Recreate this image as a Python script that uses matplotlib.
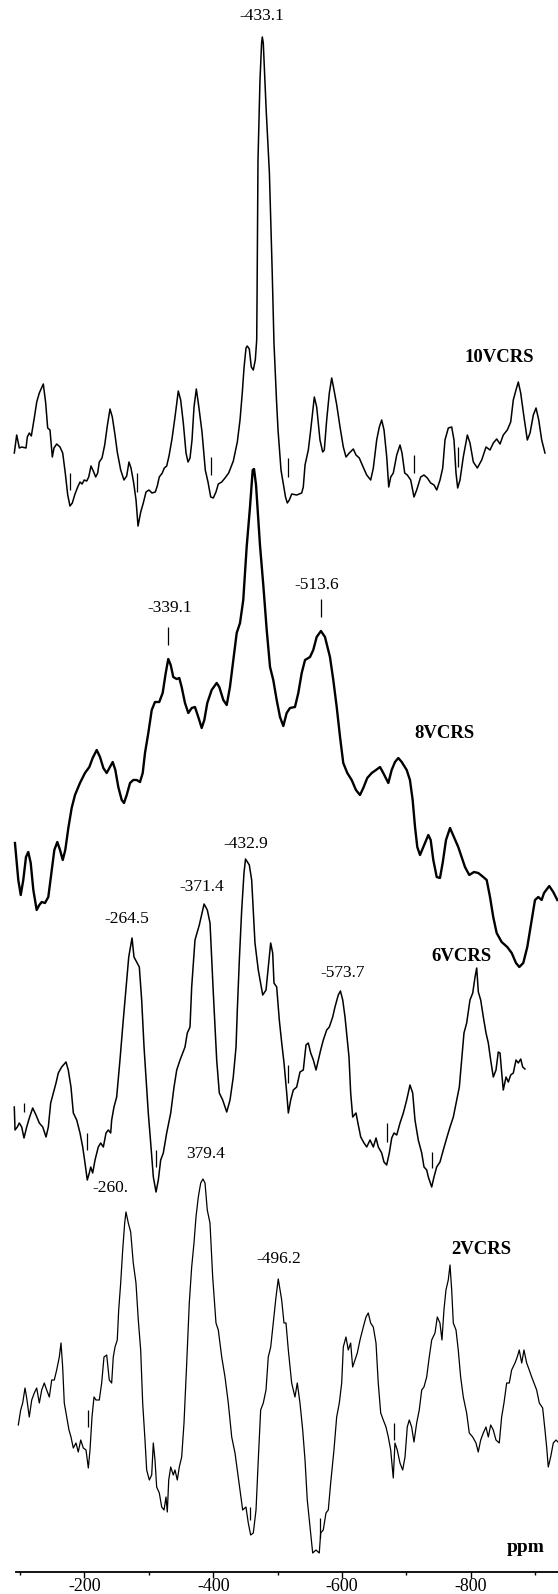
import numpy as np
import matplotlib.pyplot as plt

plt.rcParams['font.family'] = ['Liberation Serif', 'DejaVu Serif']

# ---- 10VCRS ----
ppm_10 = [-48.2, -51.9, -56.0, -59.7, -66.4, -68.4, -71.5, -74.6, -79.2, -83.0,
          -87.0, -93.2, -96.9, -100.0, -103.6, -107.2, -109.8, -114.0, -119.1, -123.3,
          -127.3, -131.1, -134.6, -138.2, -142.4, -146.6, -150.2, -153.3, -156.8, -160.6,
          -163.7, -167.2, -170.8, -174.5, -177.6, -180.1, -184.3, -188.5, -192.5, -196.7,
          -200.3, -204.5, -208.0, -213.3, -218.4, -222.6, -226.2, -229.3, -233.5, -237.1,
          -240.2, -244.4, -248.4, -252.6, -257.2, -261.9, -267.0, -270.1, -273.2, -277.9,
          -281.0, -284.7, -288.3, -292.9, -297.6, -302.7, -306.4, -310.5, -314.7, -317.8,
          -320.9, -324.0, -327.1, -330.7, -334.4, -339.5, -344.6, -348.8, -353.0, -357.0,
          -361.2, -364.8, -370.1, -375.2, -380.9, -388.1, -394.3, -398.5, -402.0, -404.7,
          -407.8, -409.8, -412.9, -416.0, -419.1, -422.2, -424.4, -424.9, -426.4, -429.5,
          -432.0, -433.1, -434.6, -439.1, -444.1, -448.5, -451.2, -455.1, -457.5, -462.1,
          -466.0, -469.1, -471.9, -475.0, -478.7, -486.5, -494.2, -496.7, -499.4, -504.5,
          -508.2, -513.8, -517.5, -522.6, -526.8, -529.3, -533.0, -537.1, -540.8, -544.4,
          -548.6, -553.7, -558.8, -563.0, -568.1, -574.3, -578.5, -583.6, -588.9, -595.1,
          -601.3, -605.4, -610.6, -614.7, -618.4, -622.0, -626.2, -629.3, -632.4, -636.4,
          -641.7, -646.8, -649.9, -654.1, -658.1, -663.4, -668.5, -672.7, -678.9, -684.0,
          -689.2, -694.4, -699.6, -703.8, -708.9, -713.1, -716.6, -721.8, -727.0, -730.6,
          -733.7, -736.3, -739.9, -745.0, -751.3, -755.4, -760.6, -766.8, -773.6, -780.3,
          -786.5, -791.6, -796.9, -802.0, -807.1, -813.3, -818.6, -822.6, -826.8, -830.4,
          -834.1, -839.2, -844.4, -848.6, -853.7, -857.9, -862.1, -866.7, -871.8]
int_10 = [47, 65, 52, 53, 52, 63, 67, 64, 82, 98,
          107, 116, 97, 72, 70, 43, 52, 56, 53, 47,
          27, 5, -6, -3, 6, 13, 18, 16, 20, 19,
          23, 34, 29, 23, 27, 38, 42, 55, 74, 91,
          83, 65, 48, 30, 20, 24, 38, 32, 17, 0,
          -26, -12, -3, 8, 10, 7, 8, 14, 23, 27,
          32, 34, 44, 61, 83, 109, 100, 77, 47, 38,
          42, 60, 93, 111, 94, 68, 30, 18, 3, 2,
          8, 16, 18, 22, 27, 39, 58, 80, 107, 132,
          152, 154, 151, 133, 130, 140, 160, 200, 340, 420,
          457, 463, 457, 390, 327, 227, 157, 100, 70, 30,
          15, 3, -3, 0, 6, 5, 7, 13, 35, 50,
          70, 103, 93, 60, 48, 50, 80, 107, 122, 110,
          95, 73, 53, 43, 47, 51, 45, 42, 34, 25,
          20, 32, 60, 73, 80, 70, 43, 13, 23, 27,
          45, 55, 47, 27, 25, 20, 3, 10, 23, 25,
          22, 17, 15, 10, 20, 32, 60, 72, 73, 60,
          27, 12, 20, 43, 65, 57, 38, 32, 40, 53,
          50, 57, 61, 56, 65, 70, 78, 100, 110, 118,
          107, 83, 60, 67, 85, 92, 80, 60, 47]
peaks_10 = [-433.1]
peak_labels_10 = ['-433.1']
marks_10 = [-134.6, -239.1, -353.0, -472.5, -669.0, -737.3]
marks_10_lo = [10, 8, 25, 23, 27, 33]
marks_10_hi = [27, 27, 43, 42, 45, 53]

# ---- 8VCRS ----
ppm_8 = [-163.9, -167.7, -170.5, -173.4, -176.5, -179.1, -181.9, -184.9, -188.7, -191.7,
         -194.5, -198.2, -202.0, -205.9, -208.9, -212.3, -215.4, -218.5, -221.4, -224.9,
         -228.7, -232.5, -238.2, -243.9, -248.9, -252.7, -257.3, -261.1, -264.9, -268.7,
         -272.5, -275.6, -278.6, -282.0, -285.9, -288.5, -291.6, -295.4, -299.1, -303.0,
         -306.8, -309.9, -312.5, -316.3, -320.2, -323.9, -328.8, -332.7, -336.2, -339.1,
         -341.9, -344.8, -348.7, -351.7, -354.4, -358.2, -362.0, -365.9, -369.6, -373.4,
         -377.3, -380.3, -383.7, -388.7, -394.4, -397.4, -402.0, -405.9, -409.6, -413.4,
         -417.3, -421.1, -424.8, -428.7, -432.5, -435.6, -437.1, -439.4, -442.0, -443.9,
         -447.7, -451.6, -455.4, -459.1, -463.0, -466.8, -470.6, -474.4, -478.2, -483.9,
         -487.7, -491.6, -495.4, -501.1, -504.8, -508.7, -513.6, -518.2, -523.9, -527.7,
         -531.6, -535.4, -539.1, -543.7, -548.7, -553.6, -558.2, -562.0, -566.5, -571.6,
         -576.5, -581.1, -584.8, -590.6, -594.4, -598.2, -602.0, -605.9, -611.6, -615.3,
         -618.4, -621.1, -623.7, -626.8, -630.6, -636.3, -639.0, -642.0, -645.9, -649.6,
         -652.7, -656.5, -661.1, -665.6, -670.5, -674.4, -678.2, -683.1, -688.5, -693.4,
         -699.1, -703.0, -706.8, -710.5, -714.4, -720.1, -726.5, -731.6, -736.5, -740.3,
         -744.8, -749.4, -754.4, -758.2, -762.0, -765.8, -768.5, -774.5, -779.1, -783.7]
int_8 = [127, 90, 75, 90, 113, 118, 107, 80, 60, 65,
         68, 67, 73, 100, 120, 128, 120, 110, 120, 142,
         162, 175, 187, 197, 203, 212, 220, 213, 202, 197,
         203, 208, 200, 183, 170, 167, 175, 187, 190, 190,
         188, 197, 217, 237, 260, 268, 268, 277, 297, 311,
         305, 293, 291, 292, 283, 267, 257, 262, 263, 253,
         242, 250, 267, 280, 287, 283, 270, 265, 283, 310,
         337, 347, 370, 423, 463, 500, 501, 485, 450, 425,
         385, 340, 303, 290, 270, 253, 244, 257, 262, 263,
         277, 297, 310, 313, 320, 333, 339, 333, 313, 290,
         263, 233, 207, 197, 190, 180, 175, 182, 192, 197,
         200, 203, 197, 187, 200, 208, 212, 208, 200, 190,
         170, 143, 123, 115, 123, 135, 130, 110, 93, 92,
         107, 130, 142, 133, 123, 113, 103, 95, 98, 97,
         93, 90, 73, 53, 37, 28, 23, 17, 7, 3,
         7, 23, 50, 70, 73, 70, 77, 84, 78, 70]
peaks_8 = [-339.1, -513.6]
peak_labels_8 = ['-339.1', '-513.6']

# ---- 6VCRS ----
ppm_6 = [-89.8, -90.9, -94.3, -97.2, -100.8, -104.2, -108.2, -112.1, -117.1, -122.0,
         -126.9, -132.0, -136.9, -140.3, -143.8, -147.7, -151.7, -155.1, -160.1, -166.5,
         -169.9, -173.9, -177.4, -182.4, -187.3, -191.3, -194.7, -198.1, -201.1, -203.2,
         -206.1, -209.6, -214.4, -218.0, -221.9, -225.9, -229.3, -232.8, -234.3, -237.7,
         -241.7, -246.6, -251.5, -256.6, -259.6, -264.5, -267.4, -271.4, -275.3, -278.8,
         -282.3, -285.2, -288.6, -292.2, -296.1, -300.1, -303.5, -307.0, -310.9, -315.9,
         -321.9, -326.8, -330.8, -335.7, -339.7, -343.1, -346.5, -350.5, -353.0, -357.9,
         -364.3, -371.4, -376.2, -380.2, -385.1, -390.1, -394.0, -399.0, -405.0, -409.9,
         -414.7, -418.8, -420.7, -423.7, -427.2, -430.6, -432.9, -438.5, -442.0, -446.9,
         -451.8, -458.4, -463.3, -466.7, -470.2, -473.2, -475.1, -479.1, -483.0, -486.6,
         -490.0, -494.0, -496.4, -499.9, -503.8, -508.8, -513.7, -518.6, -522.6, -526.0,
         -529.6, -533.5, -537.5, -540.9, -544.4, -548.3, -553.3, -557.2, -562.2, -565.6,
         -570.5, -573.7, -577.1, -580.5, -583.9, -586.4, -588.9, -591.9, -596.8, -600.2,
         -603.8, -608.7, -612.7, -617.6, -622.5, -626.5, -629.9, -634.9, -638.3, -642.3,
         -646.2, -649.8, -653.2, -657.2, -662.1, -667.0, -672.0, -676.9, -680.9, -684.3,
         -689.2, -694.3, -697.7, -701.7, -704.1, -709.1, -712.5, -716.5, -721.4, -726.3,
         -731.4, -736.3, -741.2, -746.2, -750.1, -753.6, -757.0, -761.0, -765.9, -770.0,
         -773.4, -775.9, -778.3, -781.8, -785.7, -789.7, -793.1, -796.6, -800.5, -804.5,
         -807.9, -810.5, -813.0, -815.3, -819.4, -822.8, -826.3, -830.2, -834.2, -837.6,
         -841.2, -844.1, -847.5]
int_6 = [83, 60, 63, 67, 63, 52, 63, 72, 82, 75,
         67, 63, 53, 63, 87, 97, 107, 117, 123, 128,
         120, 103, 77, 70, 57, 43, 27, 10, 17, 23,
         17, 30, 43, 47, 43, 57, 60, 57, 70, 83,
         93, 130, 170, 210, 233, 252, 233, 228, 223, 190,
         143, 113, 77, 47, 13, -2, 10, 30, 37, 57,
         77, 103, 120, 130, 137, 143, 157, 163, 203, 250,
         265, 286, 280, 267, 197, 130, 97, 90, 78, 90,
         113, 143, 180, 230, 280, 317, 331, 325, 310, 247,
         220, 195, 200, 223, 247, 237, 207, 203, 170, 147,
         127, 97, 77, 90, 100, 103, 118, 120, 145, 147,
         137, 130, 120, 130, 140, 150, 160, 163, 173, 183,
         195, 199, 190, 173, 150, 133, 97, 73, 77, 65,
         53, 47, 43, 50, 43, 52, 43, 37, 28, 25,
         37, 52, 57, 55, 67, 77, 90, 105, 97, 70,
         50, 37, 23, 20, 13, 3, 13, 23, 28, 40,
         52, 63, 73, 90, 103, 130, 157, 167, 190, 197,
         213, 222, 198, 190, 173, 157, 147, 130, 113, 120,
         138, 137, 117, 100, 113, 108, 115, 117, 130, 127,
         131, 123, 121]
peaks_6 = [-264.5, -371.4, -432.9, -573.7]
peak_labels_6 = ['-264.5', '-371.4', '-432.9', '-573.7']
marks_6 = [-104.7, -198.1, -300.1, -496.4, -642.3, -709.1]
marks_6_lo = [78, 40, 23, 107, 48, 22]
marks_6_hi = [87, 57, 40, 125, 67, 38]

# ---- 2VCRS ----
ppm_2 = [-93.0, -96.7, -99.8, -103.4, -106.0, -110.0, -113.8, -117.8, -121.5, -125.6,
         -129.3, -133.3, -137.0, -141.1, -144.8, -148.8, -152.5, -156.6, -159.2, -161.8,
         -164.3, -168.1, -171.6, -174.7, -178.3, -182.5, -186.0, -189.8, -193.8, -198.0,
         -201.6, -204.2, -207.3, -210.4, -213.5, -218.6, -222.3, -225.9, -230.1, -234.1,
         -237.8, -240.3, -243.0, -246.5, -248.7, -251.8, -254.9, -258.0, -260.0, -263.6,
         -267.3, -271.3, -275.5, -279.1, -282.8, -285.9, -289.5, -292.1, -296.2, -299.9,
         -302.4, -305.0, -307.6, -311.7, -315.4, -319.0, -322.1, -324.1, -326.3, -329.4,
         -333.4, -336.0, -339.6, -342.7, -346.4, -350.0, -354.2, -358.2, -361.9, -365.5,
         -368.6, -372.2, -375.9, -379.4, -382.6, -386.1, -390.3, -394.5, -399.6, -403.2,
         -408.5, -413.6, -418.7, -424.0, -429.1, -432.6, -436.8, -441.0, -446.1, -449.7,
         -453.4, -457.5, -461.7, -465.2, -468.9, -473.0, -477.2, -480.7, -484.5, -488.5,
         -492.7, -496.2, -501.5, -505.1, -508.2, -511.8, -517.0, -522.1, -525.7, -529.9,
         -534.1, -537.7, -541.2, -545.4, -549.6, -554.7, -559.8, -562.0, -566.0, -570.2,
         -573.8, -577.5, -582.6, -586.8, -590.9, -594.6, -597.1, -601.2, -604.8, -608.5,
         -611.6, -615.2, -618.8, -623.0, -628.1, -632.3, -635.8, -639.5, -643.6, -647.8,
         -651.3, -655.1, -659.1, -663.3, -666.9, -670.6, -674.6, -677.2, -680.8, -685.0,
         -689.2, -692.8, -696.3, -699.4, -703.1, -706.7, -710.9, -714.9, -718.7, -722.2,
         -726.4, -730.4, -734.2, -739.3, -742.9, -747.0, -750.1, -753.2, -756.3, -759.9,
         -762.6, -765.2, -767.7, -771.9, -775.4, -779.1, -783.2, -788.4, -792.5, -797.8,
         -802.9, -806.4, -810.2, -814.2, -818.4, -822.0, -825.7, -829.7, -833.9, -839.0,
         -842.7, -846.3, -850.5, -854.5, -858.2, -863.4, -866.9, -870.0, -873.8, -877.3,
         -881.5, -885.5, -889.3, -892.8, -897.0, -901.1, -906.3, -909.9, -912.5, -915.0,
         -918.7, -922.8, -927.0, -930.1]
int_2 = [115, 130, 137, 152, 142, 123, 140, 147, 152, 137,
         150, 157, 150, 143, 160, 160, 170, 183, 197, 173,
         137, 123, 110, 103, 92, 97, 88, 100, 92, 90,
         72, 90, 123, 143, 140, 140, 157, 183, 185, 160,
         157, 183, 193, 200, 230, 257, 290, 317, 328, 317,
         308, 277, 257, 220, 190, 137, 100, 70, 60, 65,
         97, 80, 53, 47, 33, 30, 43, 28, 60, 73,
         65, 70, 60, 73, 83, 117, 177, 237, 273, 297,
         323, 343, 357, 361, 357, 330, 317, 263, 217, 210,
         183, 163, 137, 103, 87, 70, 50, 30, 33, 17,
         5, 7, 30, 80, 130, 137, 150, 183, 193, 217,
         243, 261, 240, 217, 217, 190, 157, 143, 157, 137,
         110, 80, 40, 13, -13, -10, -13, 7, 10, 27,
         30, 57, 90, 123, 137, 157, 193, 203, 190, 197,
         173, 180, 187, 200, 213, 223, 227, 217, 213, 197,
         157, 127, 120, 113, 103, 90, 62, 97, 90, 77,
         70, 83, 113, 120, 113, 98, 117, 130, 150, 153,
         163, 183, 200, 207, 223, 217, 200, 230, 250, 260,
         275, 250, 217, 210, 190, 163, 143, 127, 107, 103,
         97, 88, 100, 107, 113, 103, 115, 110, 100, 97,
         123, 137, 157, 157, 170, 177, 183, 190, 177, 190,
         177, 170, 163, 157, 150, 137, 132, 110, 93, 73,
         83, 97, 100, 98]
peaks_2 = [-260.0, -379.4, -496.2]
peak_labels_2 = ['-260.', '379.4', '-496.2']
marks_2 = [-201.6, -452.4, -560.9, -675.7]
marks_2_lo = [113, 20, 2, 100]
marks_2_hi = [130, 33, 22, 117]

# ppm scale printed under the stack
axis_ticks = [-200, -400, -600, -800]
axis_tick_labels = ['-200', '-400', '-600', '-800']
axis_minor_ticks = [-100, -300, -500, -700, -900]

W, H = 558, 1594
fig = plt.figure(figsize=(W / 100, H / 100), dpi=100)

ax = fig.add_axes([0, 0, 1, 1])
ax.patch.set_alpha(0)
ax.set_xlim(-68.8, -935.4)
ax.set_ylim(0, H)
for side in ('top', 'left', 'right'):
    ax.spines[side].set_visible(False)
ax.spines['bottom'].set_position(('data', 22))
ax.spines['bottom'].set_bounds(-93.6, -935.4)
ax.spines['bottom'].set_linewidth(1.3)
ax.set_yticks([])
ax.set_xticks(axis_ticks, labels=axis_tick_labels)
ax.set_xticks(axis_minor_ticks, minor=True)
ax.tick_params(axis='x', which='major', direction='out', length=4, width=1,
               pad=0, labelsize=13)
ax.tick_params(axis='x', which='minor', direction='out', length=2.5, width=1)
ax.text(-885.7, 47, 'ppm', ha='center', va='center', fontsize=14,
        fontweight='bold')


def draw_trace(shift, inten, offset, xlim, lw, name, name_at,
               peaks=(), labels=(), label_shift=(), pointers=False,
               marks=(), marks_lo=(), marks_hi=()):
    # every trace keeps its own chemical-shift referencing
    a = fig.add_axes([0, 0, 1, 1])
    a.set_xlim(*xlim)
    a.set_ylim(0, H)
    a.axis('off')
    shift = np.asarray(shift, float)
    inten = np.asarray(inten, float)
    a.plot(shift, offset + inten, color='black', lw=lw,
           solid_joinstyle='round')
    if len(marks):
        a.vlines(marks, offset + np.asarray(marks_lo), offset + np.asarray(marks_hi),
                 color='black', lw=0.9)
    for p, lab, (dx, dy) in zip(peaks, labels, label_shift):
        top = offset + np.interp(-p, -shift, inten)
        a.annotate(lab, xy=(p, top), xytext=(dx, dy), textcoords='offset pixels',
                   ha='center', va='center', fontsize=12.5)
        if pointers:
            a.vlines(p, top + 14, top + 32, color='black', lw=0.9)
    a.text(name_at[0], offset + name_at[1], name, ha='center', va='center',
           fontsize=13.5, fontweight='bold')


draw_trace(ppm_10, int_10, 1094, (-26.0, -892.0), 1.1, '10VCRS', (-800.4, 143),
           peaks_10, peak_labels_10, [(-1, 21)],
           marks=marks_10, marks_lo=marks_10_lo, marks_hi=marks_10_hi)
draw_trace(ppm_8, int_8, 624, (-146.8, -784.5), 1.7, '8VCRS', (-654.2, 237),
           peaks_8, peak_labels_8, [(1, 51), (-4, 46)], pointers=True)
draw_trace(ppm_6, int_6, 404, (-68.6, -896.5), 1.1, '6VCRS', (-752.6, 234),
           peaks_6, peak_labels_6, [(-5, 19), (-2, 17), (0, 15), (2, 18)],
           marks=marks_6, marks_lo=marks_6_lo, marks_hi=marks_6_hi)
draw_trace(ppm_2, int_2, 54, (-64.6, -930.1), 0.9, '2VCRS', (-810.6, 290),
           peaks_2, peak_labels_2, [(-16, 24), (3, 25), (0, 20)],
           marks=marks_2, marks_lo=marks_2_lo, marks_hi=marks_2_hi)

fig.savefig('out.png', dpi=100)
